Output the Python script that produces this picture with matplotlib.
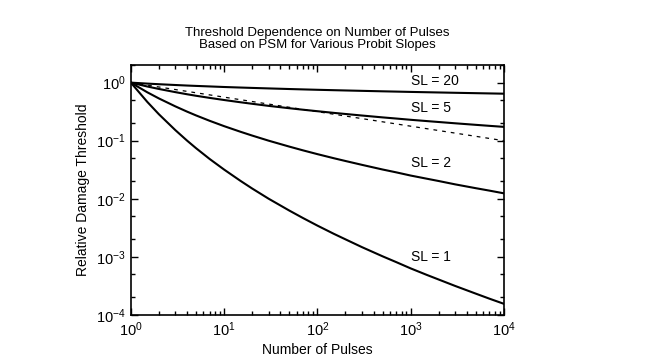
import numpy as np
import matplotlib
matplotlib.use("Agg")
import matplotlib.pyplot as plt
from matplotlib.ticker import LogLocator, NullFormatter

plt.rcParams['font.family'] = ['Liberation Sans', 'DejaVu Sans']
plt.rcParams['mathtext.default'] = 'regular'

# number of pulses
pulses = [1, 1.5, 2, 3, 4, 5, 7, 10, 15, 20, 30, 50, 70, 100, 150, 200, 300,
          500, 700, 1000, 1500, 2000, 3000, 5000, 7000, 10000]

# relative damage threshold
sl1 = [1, 0.466, 0.285, 0.152, 0.1005, 0.0743, 0.0484, 0.0318, 0.0203, 0.0150,
       0.01002, 0.00626, 0.00466, 0.00345, 0.00249, 0.00200, 0.00147, 0.00102,
       0.000811, 0.000632, 0.000486, 0.000406, 0.000315, 0.000232, 0.000190, 0.000155]
sl2 = [1, 0.682, 0.534, 0.390, 0.317, 0.2725, 0.220, 0.178, 0.1424, 0.1225,
       0.1001, 0.0791, 0.0682, 0.0587, 0.0499, 0.0447, 0.0384, 0.0319,
       0.0285, 0.0251, 0.0221, 0.0202, 0.0177, 0.0152, 0.0138, 0.0124]
sl5 = [1, 0.858, 0.778, 0.686, 0.631, 0.594, 0.546, 0.502, 0.459, 0.432,
       0.398, 0.3625, 0.3417, 0.322, 0.3014, 0.2884, 0.2714, 0.2520,
       0.2408, 0.2291, 0.2175, 0.2098, 0.1994, 0.1875, 0.1802, 0.1730]
sl20 = [1, 0.9625, 0.939, 0.910, 0.891, 0.878, 0.860, 0.841, 0.823, 0.811,
        0.795, 0.776, 0.7646, 0.753, 0.741, 0.733, 0.722, 0.7087,
        0.7007, 0.692, 0.6831, 0.6770, 0.6684, 0.6583, 0.6518, 0.645]
# dashed reference line
ref_n = [1, 10000]
ref_y = [1, 0.1]

labels = ["SL = 20", "SL = 5", "SL = 2", "SL = 1"]
label_x = [1000, 1000, 1000, 1000]
label_y = [1.05, 0.37, 0.041, 0.001]

fig = plt.figure(figsize=(6.51, 3.64), dpi=100)
ax = fig.add_axes([0.201, 0.135, 0.573, 0.686])

for s in [sl1, sl2, sl5, sl20]:
    ax.loglog(pulses, s, color='black', lw=1.5)
ax.loglog(ref_n, ref_y, color='black', lw=0.9, ls=(0, (3, 4)))

for lab, lx, ly in zip(labels, label_x, label_y):
    ax.text(lx, ly, lab, fontsize=10, ha='left', va='center')

ax.set_xlim(1, 1e4)
ax.set_ylim(1e-4, 2)
ax.set_xticks([1, 10, 100, 1000, 10000])
ax.set_xticklabels(['$10^{0}$', '$10^{1}$', '$10^{2}$', '$10^{3}$', '$10^{4}$'])
ax.set_yticks([1e-4, 1e-3, 1e-2, 1e-1, 1])
ax.set_yticklabels(['$10^{-4}$', '$10^{-3}$', '$10^{-2}$', '$10^{-1}$', '$10^{0}$'])
ax.xaxis.set_minor_locator(LogLocator(base=10, subs=np.arange(2, 10), numticks=20))
ax.yaxis.set_minor_locator(LogLocator(base=10, subs=[2, 5], numticks=20))
ax.xaxis.set_minor_formatter(NullFormatter())
ax.yaxis.set_minor_formatter(NullFormatter())
ax.tick_params(which='both', direction='in', top=True, right=True, labelsize=10.5)
ax.tick_params(which='major', length=5, width=1, pad=4)
ax.tick_params(which='minor', length=3, width=1)
for sp in ax.spines.values():
    sp.set_linewidth(1.2)

ax.set_xlabel("Number of Pulses", fontsize=10, labelpad=3)
ax.set_ylabel("Relative Damage Threshold", fontsize=10)
ax.set_title("Threshold Dependence on Number of Pulses\nBased on PSM for Various Probit Slopes",
             fontsize=9.5, linespacing=1.1, pad=12)

fig.savefig("out.png", dpi=100)
